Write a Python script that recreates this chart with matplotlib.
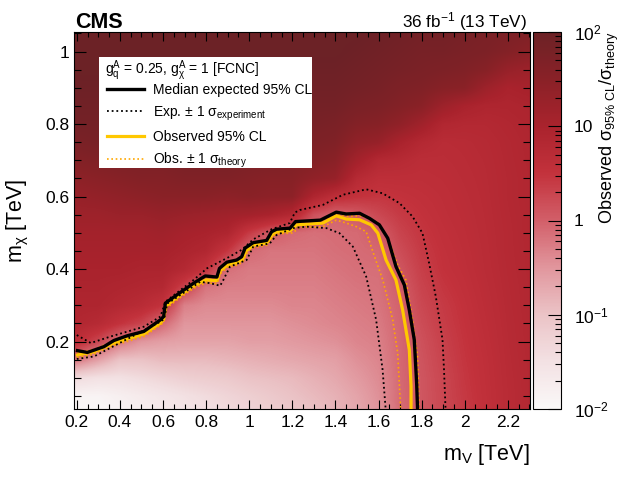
import numpy as np
import matplotlib
matplotlib.use('Agg')
import matplotlib.pyplot as plt
import matplotlib.cm as cm
import matplotlib.patches as patches
from matplotlib.colors import LinearSegmentedColormap, Normalize, LogNorm
from matplotlib.lines import Line2D
from matplotlib.ticker import MultipleLocator, FuncFormatter, FixedLocator, FixedFormatter, LogLocator

plt.rcParams['font.family'] = ['Liberation Sans', 'DejaVu Sans']
plt.rcParams['mathtext.fontset'] = 'custom'
plt.rcParams['mathtext.rm'] = 'Liberation Sans'
plt.rcParams['mathtext.it'] = 'Liberation Sans:italic'
plt.rcParams['mathtext.bf'] = 'Liberation Sans:bold'

# grid of the observed limit map (log10 of sigma_95/sigma_theory)
mv_grid = [0.2, 0.3, 0.4, 0.5, 0.6, 0.7, 0.8, 0.9, 1.0, 1.1, 1.2,
           1.3, 1.4, 1.5, 1.6, 1.7, 1.8, 1.9, 2.0, 2.1, 2.2, 2.3]
mchi_grid = [0.0, 0.05, 0.1, 0.15, 0.2, 0.25, 0.3, 0.35, 0.4, 0.45, 0.5,
             0.55, 0.6, 0.65, 0.7, 0.75, 0.8, 0.85, 0.9, 0.95, 1.0, 1.05]

# one list per mV column, from mchi = 0 upwards
log_ratio_by_mv = [
    [-2.0, -1.9, -1.4, -0.2, 0.6, 0.85, 0.9, 0.95, 1.0, 1.05, 1.1, 1.2, 1.3, 1.45, 1.6, 1.75, 1.85, 1.9, 1.95, 2.0, 2.0, 2.0],
    [-2.0, -1.9, -1.5, -0.6, 0.25, 0.75, 0.9, 0.95, 1.0, 1.05, 1.1, 1.2, 1.35, 1.5, 1.65, 1.8, 1.85, 1.9, 1.95, 2.0, 2.0, 2.0],
    [-1.9, -1.8, -1.5, -1.0, -0.2, 0.5, 0.8, 0.9, 1.0, 1.05, 1.1, 1.25, 1.4, 1.55, 1.7, 1.8, 1.85, 1.9, 1.95, 2.0, 2.0, 2.0],
    [-1.8, -1.7, -1.4, -1.0, -0.5, 0.3, 0.7, 0.85, 0.95, 1.05, 1.1, 1.25, 1.45, 1.6, 1.7, 1.8, 1.85, 1.9, 1.95, 2.0, 2.0, 2.0],
    [-1.7, -1.6, -1.3, -0.9, -0.6, -0.1, 0.5, 0.8, 0.95, 1.05, 1.15, 1.3, 1.5, 1.6, 1.7, 1.8, 1.85, 1.9, 1.95, 2.0, 2.0, 2.0],
    [-1.6, -1.5, -1.2, -0.9, -0.65, -0.5, -0.3, 0.3, 0.8, 0.95, 1.05, 1.25, 1.5, 1.65, 1.75, 1.8, 1.85, 1.9, 1.95, 2.0, 2.0, 2.0],
    [-1.5, -1.4, -1.15, -0.9, -0.65, -0.5, -0.4, -0.2, 0.5, 0.85, 1.0, 1.2, 1.5, 1.65, 1.75, 1.8, 1.85, 1.9, 1.95, 2.0, 2.0, 2.0],
    [-1.4, -1.3, -1.1, -0.85, -0.65, -0.5, -0.4, -0.3, -0.15, 0.45, 0.9, 1.15, 1.45, 1.65, 1.75, 1.8, 1.85, 1.9, 1.95, 2.0, 2.0, 2.0],
    [-1.3, -1.2, -1.0, -0.8, -0.6, -0.5, -0.4, -0.3, -0.25, -0.1, 0.4, 1.1, 1.5, 1.6, 1.7, 1.8, 1.85, 1.9, 1.95, 2.0, 2.0, 2.0],
    [-1.2, -1.1, -0.95, -0.75, -0.6, -0.5, -0.4, -0.3, -0.25, -0.2, 0.05, 1.0, 1.45, 1.55, 1.7, 1.8, 1.85, 1.9, 1.95, 2.0, 2.0, 2.0],
    [-1.1, -1.0, -0.9, -0.7, -0.55, -0.45, -0.35, -0.3, -0.25, -0.2, -0.1, 0.8, 1.45, 1.55, 1.65, 1.75, 1.85, 1.9, 1.95, 2.0, 2.0, 2.0],
    [-1.0, -0.9, -0.8, -0.65, -0.5, -0.4, -0.35, -0.3, -0.25, -0.2, -0.15, 0.15, 0.9, 1.4, 1.6, 1.7, 1.8, 1.85, 1.9, 1.95, 2.0, 2.0],
    [-0.85, -0.8, -0.7, -0.6, -0.45, -0.35, -0.3, -0.25, -0.2, -0.15, -0.12, -0.05, 0.6, 1.3, 1.5, 1.65, 1.75, 1.85, 1.9, 1.95, 2.0, 2.0],
    [-0.7, -0.65, -0.55, -0.45, -0.35, -0.3, -0.25, -0.2, -0.15, -0.12, -0.1, 0.05, 0.5, 0.75, 1.1, 1.4, 1.6, 1.75, 1.85, 1.9, 1.95, 2.0],
    [-0.5, -0.45, -0.4, -0.35, -0.3, -0.25, -0.2, -0.17, -0.14, -0.08, 0.02, 0.25, 0.45, 0.6, 0.8, 1.3, 1.55, 1.7, 1.8, 1.85, 1.9, 1.95],
    [-0.12, -0.11, -0.1, -0.09, -0.08, -0.06, -0.03, 0.02, 0.1, 0.2, 0.3, 0.4, 0.5, 0.6, 0.75, 1.0, 1.4, 1.6, 1.7, 1.8, 1.85, 1.9],
    [0.08, 0.09, 0.1, 0.12, 0.15, 0.2, 0.25, 0.3, 0.35, 0.4, 0.45, 0.5, 0.55, 0.6, 0.65, 0.8, 1.15, 1.5, 1.65, 1.75, 1.8, 1.85],
    [0.25, 0.26, 0.27, 0.3, 0.33, 0.37, 0.4, 0.45, 0.5, 0.52, 0.55, 0.58, 0.6, 0.63, 0.66, 0.7, 0.85, 1.2, 1.55, 1.7, 1.8, 1.85],
    [0.4, 0.42, 0.44, 0.46, 0.48, 0.5, 0.52, 0.55, 0.58, 0.6, 0.62, 0.64, 0.66, 0.68, 0.7, 0.72, 0.8, 1.0, 1.5, 1.65, 1.75, 1.8],
    [0.55, 0.56, 0.57, 0.58, 0.6, 0.62, 0.64, 0.66, 0.68, 0.69, 0.7, 0.71, 0.72, 0.73, 0.74, 0.76, 0.8, 0.9, 1.2, 1.55, 1.7, 1.75],
    [0.7, 0.7, 0.71, 0.72, 0.73, 0.74, 0.75, 0.76, 0.77, 0.78, 0.78, 0.79, 0.8, 0.8, 0.81, 0.82, 0.85, 0.9, 1.0, 1.3, 1.6, 1.7],
    [0.8, 0.8, 0.8, 0.81, 0.82, 0.82, 0.83, 0.83, 0.84, 0.84, 0.85, 0.85, 0.86, 0.86, 0.87, 0.88, 0.9, 0.95, 1.05, 1.2, 1.5, 1.65],
]

# contours (mV, mchi) in TeV
exp_mv = [0.203, 0.249, 0.326, 0.372, 0.434, 0.511, 0.588, 0.603, 0.611, 0.665, 0.742, 0.796, 0.85, 0.862,
          0.896, 0.942, 0.965, 0.981, 1.019, 1.081, 1.104, 1.127, 1.19, 1.215, 1.33, 1.404, 1.45, 1.512,
          1.558, 1.604, 1.643, 1.681, 1.72, 1.743, 1.766, 1.777, 1.782]
exp_mchi = [0.175, 0.170, 0.186, 0.203, 0.216, 0.228, 0.26, 0.269, 0.306, 0.329, 0.361, 0.381, 0.378, 0.402,
            0.419, 0.425, 0.434, 0.458, 0.473, 0.479, 0.503, 0.51, 0.513, 0.531, 0.535, 0.557, 0.552, 0.554,
            0.54, 0.522, 0.485, 0.407, 0.356, 0.287, 0.205, 0.085, 0.0]

exp_up_mv = [0.2, 0.265, 0.357, 0.511, 0.588, 0.611, 0.742, 0.804, 0.896, 0.965, 1.019, 1.104, 1.188, 1.212,
             1.235, 1.342, 1.435, 1.543, 1.619, 1.697, 1.758, 1.804, 1.835, 1.866, 1.897, 1.904, 1.912]
exp_up_mchi = [0.218, 0.196, 0.214, 0.241, 0.269, 0.310, 0.37, 0.402, 0.43, 0.453, 0.482, 0.51, 0.527, 0.556,
               0.563, 0.577, 0.605, 0.62, 0.609, 0.582, 0.545, 0.499, 0.416, 0.324, 0.205, 0.122, 0.0]

exp_down_mv = [0.2, 0.28, 0.434, 0.588, 0.605, 0.62, 0.634, 0.773, 0.819, 0.865, 0.88, 0.911, 0.988, 1.019,
               1.096, 1.127, 1.204, 1.266, 1.358, 1.419, 1.481, 1.543, 1.589, 1.619, 1.635]
exp_down_mchi = [0.152, 0.159, 0.207, 0.255, 0.262, 0.305, 0.31, 0.365, 0.361, 0.354, 0.37, 0.407, 0.425, 0.462,
                 0.471, 0.494, 0.513, 0.517, 0.513, 0.499, 0.462, 0.379, 0.26, 0.122, 0.0]

obs_mv = [0.203, 0.28, 0.372, 0.511, 0.59, 0.603, 0.613, 0.665, 0.742, 0.8, 0.85, 0.865, 0.9, 0.945, 0.97,
          0.985, 1.02, 1.081, 1.111, 1.13, 1.19, 1.22, 1.342, 1.404, 1.45, 1.512, 1.566, 1.597, 1.635,
          1.681, 1.712, 1.743, 1.751, 1.751]
obs_mchi = [0.163, 0.172, 0.196, 0.221, 0.252, 0.262, 0.298, 0.322, 0.354, 0.37, 0.368, 0.395, 0.412, 0.418,
            0.428, 0.45, 0.466, 0.472, 0.498, 0.503, 0.506, 0.522, 0.527, 0.547, 0.538, 0.536, 0.522, 0.499,
            0.425, 0.37, 0.287, 0.177, 0.076, 0.0]

obs_up_mv = [0.203, 0.28, 0.372, 0.511, 0.59, 0.603, 0.613, 0.665, 0.742, 0.8, 0.85, 0.865, 0.9, 0.945, 0.97,
             0.985, 1.02, 1.081, 1.108, 1.13, 1.19, 1.218, 1.335, 1.404, 1.45, 1.52, 1.589, 1.625, 1.658,
             1.69, 1.727, 1.758, 1.781, 1.789]
obs_up_mchi = [0.17, 0.178, 0.202, 0.227, 0.258, 0.268, 0.304, 0.328, 0.36, 0.377, 0.375, 0.4, 0.418, 0.424,
               0.433, 0.456, 0.472, 0.478, 0.503, 0.509, 0.512, 0.529, 0.533, 0.553, 0.546, 0.547, 0.532,
               0.505, 0.462, 0.41, 0.37, 0.26, 0.159, 0.0]

obs_down_mv = [0.203, 0.28, 0.372, 0.511, 0.59, 0.605, 0.615, 0.665, 0.742, 0.8, 0.85, 0.868, 0.9, 0.945,
               0.972, 0.988, 1.02, 1.081, 1.113, 1.135, 1.204, 1.23, 1.342, 1.404, 1.45, 1.497, 1.543, 1.558,
               1.59, 1.62, 1.666, 1.689, 1.704]
obs_down_mchi = [0.155, 0.165, 0.189, 0.214, 0.246, 0.256, 0.292, 0.315, 0.347, 0.362, 0.36, 0.388, 0.405,
                 0.411, 0.42, 0.443, 0.459, 0.466, 0.492, 0.497, 0.5, 0.515, 0.517, 0.535, 0.527, 0.517, 0.503,
                 0.476, 0.42, 0.37, 0.26, 0.168, 0.0]

# palette: white -> pink -> red -> dark maroon
pal_pos = [0.0, 0.125, 0.25, 0.375, 0.5, 0.625, 0.75, 0.875, 1.0]
pal_rgb = [(250, 248, 248), (243, 225, 227), (235, 195, 198), (225, 150, 157), (210, 95, 105),
           (195, 50, 60), (170, 35, 45), (138, 33, 39), (108, 34, 38)]
cmap = LinearSegmentedColormap.from_list(
    'cms_red', [(p, tuple(c / 255 for c in rgb)) for p, rgb in zip(pal_pos, pal_rgb)])

GOLD = '#ffc800'
ORANGE = '#ffa800'

fig = plt.figure(figsize=(6.23, 4.82), dpi=100)
ax = fig.add_axes([74 / 623, 73 / 482, 456 / 623, 377 / 482])
cax = fig.add_axes([533 / 623, 73 / 482, 28 / 623, 377 / 482])

z = np.array(log_ratio_by_mv).T
dx = (mv_grid[1] - mv_grid[0]) / 2
dy = (mchi_grid[1] - mchi_grid[0]) / 2
ax.imshow(z, origin='lower', aspect='auto', cmap=cmap, norm=Normalize(-2, 2),
          interpolation='bilinear',
          extent=(mv_grid[0] - dx, mv_grid[-1] + dx, mchi_grid[0] - dy, mchi_grid[-1] + dy))

dots = (0, (1, 1.6))
ax.plot(obs_mv, obs_mchi, color=GOLD, lw=2.3, zorder=3)
ax.plot(obs_up_mv, obs_up_mchi, color=ORANGE, lw=1.2, ls=dots, zorder=4)
ax.plot(obs_down_mv, obs_down_mchi, color=ORANGE, lw=1.2, ls=dots, zorder=4)
ax.plot(exp_up_mv, exp_up_mchi, color='black', lw=1.3, ls=dots, zorder=5)
ax.plot(exp_down_mv, exp_down_mchi, color='black', lw=1.3, ls=dots, zorder=5)
ax.plot(exp_mv, exp_mchi, color='black', lw=2.4, zorder=6)

ax.set_xlim(0.187, 2.303)
ax.set_ylim(0.014, 1.054)

fmt = FuncFormatter(lambda v, p: '%g' % round(v, 3))
ax.xaxis.set_major_locator(MultipleLocator(0.2))
ax.xaxis.set_minor_locator(MultipleLocator(0.05))
ax.yaxis.set_major_locator(MultipleLocator(0.2))
ax.yaxis.set_minor_locator(MultipleLocator(0.05))
ax.xaxis.set_major_formatter(fmt)
ax.yaxis.set_major_formatter(fmt)
ax.tick_params(which='both', direction='in', top=True, right=True, labelsize=12.5, width=0.8)
ax.tick_params(axis='x', which='major', length=6.5, pad=4)
ax.tick_params(axis='x', which='minor', length=3.3)
ax.tick_params(axis='y', which='major', length=8.6, pad=3)
ax.tick_params(axis='y', which='minor', length=4.7)
for s in ax.spines.values():
    s.set_linewidth(0.8)

ax.set_xlabel('m$_{\\mathrm{V}}$ [TeV]', fontsize=15.5, ha='right')
ax.xaxis.set_label_coords(1.0, -0.088)
ax.set_ylabel('m$_{\\mathrm{χ}}$ [TeV]', fontsize=15.5)
ax.yaxis.set_label_coords(-0.095, 0.5)

# legend: white box, title line, four entries
ax.add_patch(patches.Rectangle((25 / 456, 241 / 377), 213 / 456, 111 / 377, transform=ax.transAxes,
                               facecolor='white', edgecolor='none', zorder=9))
ax.text(31 / 456, 338 / 377, 'g$_{\\mathrm{q}}^{\\mathrm{A}}$ = 0.25, g$_{\\mathrm{χ}}^{\\mathrm{A}}$ = 1 [FCNC]',
        transform=ax.transAxes, fontsize=10, va='center', ha='left', zorder=11)
handles = [Line2D([], [], color='black', lw=2.4),
           Line2D([], [], color='black', lw=1.3, ls=dots),
           Line2D([], [], color=GOLD, lw=2.3),
           Line2D([], [], color=ORANGE, lw=1.2, ls=dots)]
labels = ['Median expected 95% CL',
          'Exp. ± 1 σ$_{\\mathrm{experiment}}$',
          'Observed 95% CL',
          'Obs. ± 1 σ$_{\\mathrm{theory}}$']
leg = ax.legend(handles, labels, loc='upper left', bbox_to_anchor=(32.7 / 456, 326 / 377),
                fontsize=10, frameon=False, handlelength=2.7, handletextpad=0.6,
                labelspacing=0.52, borderpad=0, borderaxespad=0)
leg.set_zorder(10)

# colour bar in log scale
sm = cm.ScalarMappable(norm=LogNorm(1e-2, 1e2), cmap=cmap)
cb = fig.colorbar(sm, cax=cax)
cb.outline.set_linewidth(0.8)
cax.yaxis.set_major_locator(FixedLocator([1e-2, 1e-1, 1, 10, 100]))
cax.yaxis.set_major_formatter(FixedFormatter(['$10^{-2}$', '$10^{-1}$', '1', '10', '$10^{2}$']))
cax.yaxis.set_minor_locator(LogLocator(base=10, subs=np.arange(2, 10)))
cax.tick_params(which='both', direction='in', right=True, left=False, labelsize=12.5, width=0.8)
cax.tick_params(which='major', length=9.5, pad=9)
cax.tick_params(which='minor', length=4.5)

fig.text(609 / 623, 1 - 31 / 482, 'Observed σ$_{\\mathrm{95\\%\\ CL}}$/σ$_{\\mathrm{theory}}$',
         rotation=90, ha='center', va='top', fontsize=13)

fig.text(75 / 623, 1 - 28 / 482, 'CMS', fontsize=15.5, fontweight='bold', va='baseline')
fig.text(527 / 623, 1 - 27 / 482, '36 fb$^{-1}$ (13 TeV)', fontsize=12.3, ha='right', va='baseline')

fig.savefig('out.png', dpi=100, facecolor='white')
